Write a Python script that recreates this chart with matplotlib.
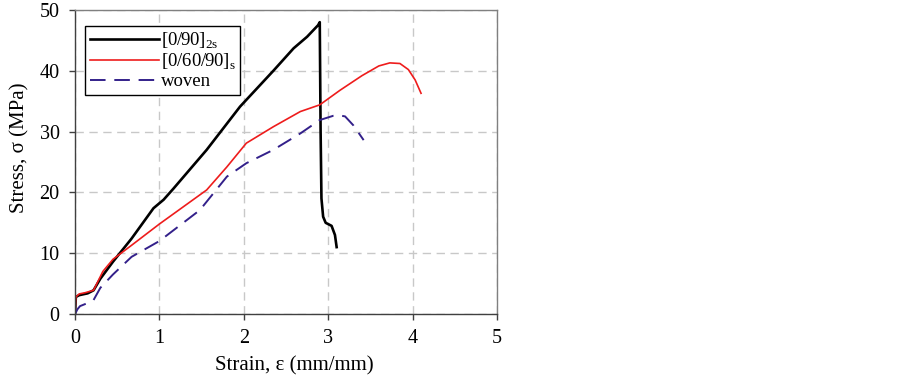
import matplotlib
matplotlib.use("Agg")
import matplotlib.pyplot as plt

plt.rcParams['font.family'] = ['Liberation Serif', 'DejaVu Serif']
plt.rcParams['mathtext.fontset'] = 'custom'
plt.rcParams['mathtext.rm'] = 'Liberation Serif'

# [0/90]2s
x_cp = [0.0, 0.01, 0.05, 0.15, 0.22, 0.30, 0.45, 0.67, 0.93, 1.05, 1.165, 1.56, 1.955, 2.35, 2.59, 2.75, 2.88, 2.90,
        2.91, 2.92, 2.94, 2.97, 3.04, 3.08, 3.10]
y_cp = [0.0, 2.8, 3.1, 3.4, 3.9, 5.8, 8.6, 12.4, 17.4, 18.8, 20.6, 27.0, 34.1, 40.0, 43.7, 45.6, 47.5, 48.0,
        30.0, 19.0, 16.0, 15.0, 14.5, 13.0, 11.0]
# [0/60/90]s
x_qi = [0.0, 0.01, 0.05, 0.12, 0.22, 0.33, 0.45, 0.67, 1.0, 1.28, 1.56, 1.80, 2.03, 2.35, 2.67, 2.90, 3.14,
        3.40, 3.60, 3.73, 3.85, 3.95, 4.03, 4.10]
y_qi = [0.0, 2.8, 3.3, 3.5, 3.9, 7.0, 9.0, 11.3, 14.8, 17.6, 20.4, 24.2, 28.1, 30.8, 33.3, 34.4, 36.8,
        39.2, 40.8, 41.3, 41.2, 40.2, 38.5, 36.3]
# woven
x_wv = [0.0, 0.03, 0.06, 0.15, 0.22, 0.30, 0.45, 0.67, 1.0, 1.48, 1.80, 2.03, 2.35, 2.67, 2.90, 3.06,
        3.12, 3.20, 3.30, 3.36, 3.42]
y_wv = [0.0, 0.8, 1.3, 1.8, 2.3, 4.3, 6.5, 9.4, 12.0, 17.1, 22.6, 24.8, 27.0, 29.7, 31.9, 32.6,
        32.7, 32.5, 31.0, 29.8, 28.6]

labels = [r'[0/90]$_{\mathregular{2s}}$', r'[0/60/90]$_{\mathregular{s}}$', 'woven']
x_ticks = [0, 1, 2, 3, 4, 5]
y_ticks = [0, 10, 20, 30, 40, 50]

fs = 14.5

fig = plt.figure(figsize=(9.03, 3.85), dpi=100)
ax = fig.add_axes([75/903, 1-314/385, 422/903, 304/385])

ax.plot(x_cp, y_cp, color='black', lw=1.9, label=labels[0])
ax.plot(x_qi, y_qi, color='#ee1c1c', lw=1.2, label=labels[1])
ax.plot(x_wv, y_wv, color='#33208a', lw=1.4, ls=(0, (8, 4.5)), label=labels[2])

ax.set_xlim(0, 5)
ax.set_ylim(0, 50)
ax.set_xticks(x_ticks)
ax.set_yticks(y_ticks)
ax.grid(True, color='#c8c8c8', ls=(0, (6, 4)), lw=1.0)
ax.set_axisbelow(True)

for s in ['top', 'right']:
    ax.spines[s].set_color('#808080')
for s in ['left', 'bottom']:
    ax.spines[s].set_color('#404040')
for s in ax.spines.values():
    s.set_linewidth(1.0)

ax.tick_params(direction='out', length=4, width=1, color='#404040', labelsize=fs, pad=7)
ax.set_xlabel('Strain, ε (mm/mm)', fontsize=fs + 0.5)
ax.set_ylabel('Stress, σ (MPa)', fontsize=fs + 0.5)
ax.xaxis.set_label_coords(0.519, -0.138)
ax.yaxis.set_label_coords(-0.108, 0.548)

leg = ax.legend(loc='upper left', bbox_to_anchor=(10/422, 1-16/304), fontsize=13.5,
                frameon=True, fancybox=False, edgecolor='black', framealpha=1,
                handlelength=3.7, handletextpad=0.08, labelspacing=0.05, borderpad=0.25,
                borderaxespad=0)
leg.get_frame().set_linewidth(1.0)

fig.savefig('out.png', dpi=100)
